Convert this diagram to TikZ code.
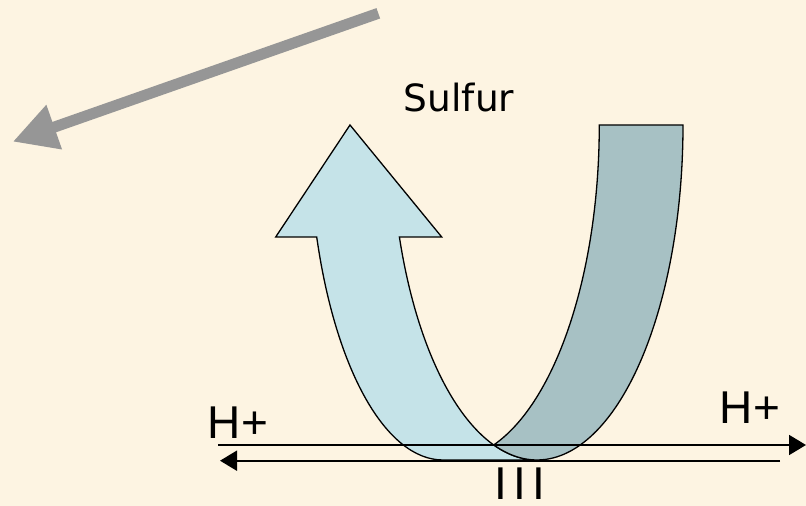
\documentclass[tikz,border=0pt]{standalone}
\usepackage{fontspec}
\setmainfont{DejaVu Sans}
\newfontfamily\hfont{Liberation Sans}
\usetikzlibrary{arrows.meta}
\definecolor{bgcream}{RGB}{253,244,226}
\definecolor{lightband}{RGB}{197,227,232}
\definecolor{darkband}{RGB}{167,193,196}
\definecolor{arrowgray}{RGB}{150,150,150}
\tikzset{
  shapeline/.style={draw=black, line width=1.3pt, line join=miter},
  hline/.style={draw=black, line width=1.8pt, -{Triangle[length=17pt,width=20pt]}},
  grayarrow/.style={draw=arrowgray, line width=11pt, -{Triangle[length=44pt,width=44pt]}},
  hlabel/.style={inner sep=0pt, anchor=base, font=\hfont\fontsize{46}{50}\selectfont},
  slabel/.style={inner sep=0pt, anchor=base, font=\fontsize{37.5}{40}\selectfont}
}
\begin{document}
\begin{tikzpicture}[x=1pt,y=1pt]
\useasboundingbox (0,0) rectangle (806,506);
\fill[bgcream] (0,0) rectangle (806,506);

% gray arrow
\coordinate (gstart) at (378.3,492.7);
\coordinate (gtip) at (12.7,364.3);
\draw[grayarrow] (gstart) -- (gtip);

% light band with arrow head
\draw[shapeline, fill=lightband] (399.4,269)
  arc[start angle=-160.47, end angle=-90, x radius=146, y radius=335]
  -- (443,46)
  arc[start angle=-90, end angle=-160.47, x radius=134, y radius=335]
  -- (275.7,269) -- (350,381) -- (441.7,269) -- cycle;

% dark band
\draw[shapeline, fill=darkband] (600,381) -- (683,381)
  arc[start angle=0, end angle=-107.24, x radius=146, y radius=335]
  arc[start angle=-72.76, end angle=0, x radius=150, y radius=335]
  -- cycle;

% H+ lines
\coordinate (upL) at (218.3,61);
\coordinate (upR) at (806,61);
\coordinate (loR) at (780,45.3);
\coordinate (loL) at (220,45.3);
\draw[hline] (upL) -- (upR);
\draw[hline] (loR) -- (loL);

% labels
\node[slabel] (sulfur) at (459,394.3) {Sulfur};
\node[hlabel] (hleft) at (238,67.7) {H+};
\node[hlabel] (hright) at (750,82.7) {H+};
\node[hlabel] (three) at (520.3,6.5) {I\kern6.2pt I\kern6.2pt I};
\end{tikzpicture}
\end{document}
